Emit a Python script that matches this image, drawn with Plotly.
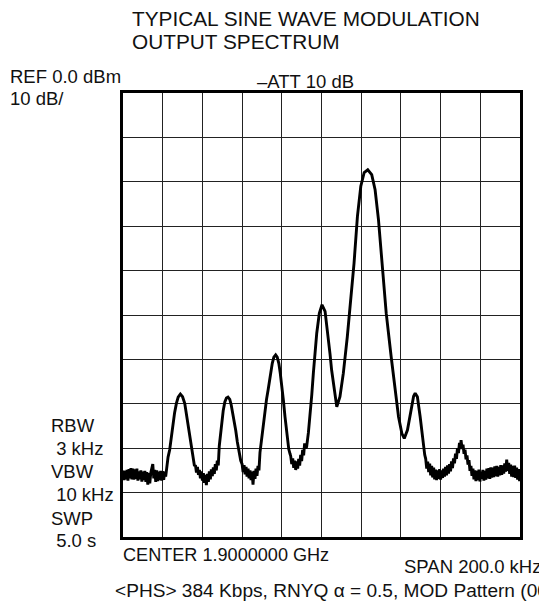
import plotly.graph_objects as go

# ---- trace data: frequency offset from centre (kHz) and level (dBm) ----
noise_left_f = [-100.0, -99.5, -99.0, -98.5, -98.0, -97.5, -97.0, -96.5, -96.0, -95.5,
                -95.0, -94.5, -94.0, -93.5, -93.0, -92.5, -92.0, -91.5, -91.0, -90.5,
                -90.0, -89.5, -89.0, -88.5, -88.0, -87.5, -87.0, -86.5, -86.0, -85.5,
                -85.0, -84.5, -84.0, -83.5, -83.0, -82.5, -82.0, -81.5, -81.0, -80.5,
                -80.0, -79.5, -79.0, -78.5]
noise_left_l = [-85.0, -87.2, -85.1, -87.0, -84.9, -87.3, -84.7, -86.8, -84.5, -87.0,
                -84.6, -87.1, -84.8, -86.9, -84.6, -87.3, -85.2, -87.0, -85.0, -87.5,
                -85.3, -87.2, -85.1, -87.6, -85.4, -88.2, -85.6, -87.9, -85.5, -84.8,
                -83.6, -86.8, -84.9, -87.6, -85.0, -87.4, -85.3, -87.2, -85.1, -87.3,
                -85.2, -87.1, -85.3, -86.4]

peak1_f = [-78.0, -77.3, -76.5, -75.7, -74.8, -74.0, -73.1, -72.2, -71.1, -70.0, -68.9, -68.0,
           -67.3, -66.5, -65.6, -64.8, -64.0]
peak1_l = [-84.5, -82.0, -80.4, -77.3, -74.4, -72.0, -69.9, -68.5, -67.8, -68.4, -69.9, -72.5,
           -75.2, -77.8, -80.4, -82.5, -84.0]

noise2_f = [-63.5, -63.0, -62.5, -62.0, -61.5, -61.0, -60.5, -60.0, -59.5, -59.0, -58.5, -58.0,
            -57.5, -57.0, -56.5, -56.0, -55.5, -55.0, -54.5, -54.0, -53.5, -53.0, -52.5, -52.0]
noise2_l = [-83.8, -85.5, -84.2, -86.0, -84.9, -86.8, -85.2, -87.3, -85.6, -87.8, -86.0, -88.3,
            -85.8, -87.6, -85.2, -87.0, -84.8, -86.3, -84.3, -85.8, -83.6, -85.0, -82.8, -83.9]

peak2_f = [-51.5, -50.4, -49.5, -48.7, -47.9, -47.1, -46.2, -45.5, -44.9, -44.0, -43.2, -42.4,
           -41.5, -40.7]
peak2_l = [-79.5, -74.4, -71.5, -69.6, -68.7, -68.5, -69.0, -70.2, -71.5, -73.7, -76.0, -78.6,
           -81.2, -82.8]

noise3_f = [-40.0, -39.5, -39.0, -38.5, -38.0, -37.5, -37.0, -36.5, -36.0, -35.5, -35.0, -34.5,
            -34.0, -33.5, -33.0, -32.5, -32.0, -31.5]
noise3_l = [-83.6, -85.4, -83.8, -85.9, -84.2, -86.4, -84.6, -86.8, -85.0, -87.2, -85.3, -88.2,
            -85.1, -86.9, -84.6, -86.2, -84.0, -85.0]

peak3_f = [-31.0, -30.2, -29.4, -28.5, -27.7, -26.9, -26.0, -24.8, -24.0, -23.1, -22.3, -21.5,
           -20.8, -20.1, -19.2, -18.4, -17.7, -17.1, -16.5, -15.9]
peak3_l = [-81.0, -78.0, -74.4, -71.5, -69.0, -66.9, -64.0, -60.9, -59.5, -59.0, -59.5, -60.9,
           -63.0, -65.4, -69.2, -72.9, -76.0, -78.9, -80.2, -81.2]

noise4_f = [-15.5, -15.0, -14.5, -14.0, -13.5, -13.0, -12.5, -12.0, -11.5, -11.0, -10.5, -10.0,
            -9.5, -9.0, -8.5, -8.0]
noise4_l = [-81.8, -83.6, -82.3, -84.4, -82.8, -84.9, -83.0, -84.6, -82.4, -83.9, -81.5, -82.9,
            -80.4, -81.6, -78.9, -80.0]

main_f = [-7.5, -6.6, -5.8, -4.9, -4.1, -3.2, -2.4, -1.1, 0.25, 1.8, 3.4, 4.3, 5.1, 6.5, 7.7,
          9.3, 11.0, 13.0, 14.7, 16.4, 18.1, 19.8, 21.5, 23.3, 25.3, 27.0, 28.7, 30.4, 32.6,
          35.1, 37.1, 38.8, 40.5, 41.7, 43.3, 45.0, 46.4, 47.2, 48.3, 49.7, 51.1, 52.0]
main_l = [-79.7, -76.5, -72.9, -68.0, -63.1, -58.5, -54.1, -49.6, -47.7, -49.2, -54.9, -58.8,
          -62.4, -67.6, -70.7, -68.4, -63.1, -54.9, -47.3, -38.3, -27.8, -21.0, -17.9, -17.3,
          -18.4, -21.8, -28.5, -38.3, -49.6, -59.4, -66.9, -72.9, -76.7, -77.8, -75.9, -71.4,
          -68.3, -67.6, -68.4, -72.9, -78.9, -81.5]

noise5_f = [52.5, 53.0, 53.5, 54.0, 54.5, 55.0, 55.5, 56.0, 56.5, 57.0, 57.5, 58.0, 58.5, 59.0,
            59.5, 60.0, 60.5, 61.0, 61.5, 62.0, 62.5, 63.0, 63.5, 64.0, 64.5, 65.0, 65.5, 66.0,
            66.5, 67.0]
noise5_l = [-82.4, -84.6, -83.0, -85.4, -83.5, -86.1, -84.0, -86.6, -84.4, -87.0,
            -84.8, -87.2, -85.0, -86.9, -84.7, -87.1, -85.0, -86.7, -84.6, -86.4,
            -84.2, -86.1, -83.9, -85.7, -83.6, -85.2, -83.0, -84.5, -82.3, -83.4]

bump_f = [67.5, 68.0, 68.5, 69.0, 69.5, 70.0, 70.3, 70.8, 71.3, 71.8, 72.3, 72.8, 73.3, 73.8,
          74.3, 74.8, 75.3, 75.8]
bump_l = [-81.2, -82.4, -80.0, -81.1, -78.8, -80.2, -78.2, -80.0, -79.2, -81.3,
          -80.3, -82.5, -81.6, -83.7, -82.7, -85.1, -84.0, -86.2]

noise_right_f = [76.3, 76.8, 77.3, 77.8, 78.3, 78.8, 79.3, 79.8, 80.3, 80.8, 81.3, 81.8, 82.3,
                 82.8, 83.3, 83.8, 84.3, 84.8, 85.3, 85.8, 86.3, 86.8, 87.3, 87.8, 88.3, 88.8,
                 89.3, 89.8, 90.3, 90.8, 91.3, 91.8, 92.3, 92.8, 93.3, 93.8, 94.3, 94.8, 95.3,
                 95.8, 96.3, 96.8, 97.3, 97.8, 98.3, 98.8, 99.3, 99.8, 100.0]
noise_right_l = [-84.6, -87.0, -85.0, -87.4, -85.1, -87.2, -84.8, -87.5, -85.3, -86.9,
                 -84.9, -87.3, -85.1, -87.1, -84.6, -86.8, -84.5, -86.9, -84.3, -86.6,
                 -84.4, -86.5, -84.1, -86.3, -84.0, -86.4, -84.2, -86.1, -83.8, -86.0,
                 -83.9, -85.7, -83.4, -85.3, -82.6, -85.1, -83.3, -85.8, -83.7, -86.4,
                 -84.0, -86.5, -83.9, -86.7, -84.4, -87.1, -84.7, -87.4, -86.0]

freq_khz = (noise_left_f + peak1_f + noise2_f + peak2_f + noise3_f + peak3_f + noise4_f
            + main_f + noise5_f + bump_f + noise_right_f)
level_dbm = (noise_left_l + peak1_l + noise2_l + peak2_l + noise3_l + peak3_l + noise4_l
             + main_l + noise5_l + bump_l + noise_right_l)
assert len(freq_khz) == len(level_dbm)

# ---- axis settings (spectrum analyser screen) ----
span_khz = 200.0
ref_dbm = 0.0
db_per_div = 10.0

# ---- labels ----
title_lines = ["TYPICAL SINE WAVE MODULATION", "OUTPUT SPECTRUM"]
ref_label = "REF 0.0 dBm"
scale_label = "10 dB/"
att_label = "\u2013ATT 10 dB"
side_labels = ["RBW", " 3 kHz", "VBW", " 10 kHz", "SWP", " 5.0 s"]
center_label = "CENTER 1.9000000 GHz"
span_label = "SPAN 200.0 kHz"
footer_label = "<PHS> 384 Kbps, RNYQ \u03b1 = 0.5, MOD Pattern (00"

# The page body has an 8 px default margin, so the figure is drawn 8 px smaller
# and all page-pixel positions are shifted by that offset.
PAGE_OFF = 8
FIG_W, FIG_H = 547 - PAGE_OFF, 604 - PAGE_OFF
L, R, T, B = 123 - PAGE_OFF, 27, 93 - PAGE_OFF, 67
PW, PH = FIG_W - L - R, FIG_H - T - B
FONT = "Liberation Sans, Arial, sans-serif"
TEXT_PAD = 2


def px_x(px):
    return (px - PAGE_OFF - TEXT_PAD - L) / PW


def px_y(py):
    return (FIG_H - B - (py - PAGE_OFF)) / PH


fig = go.Figure()
fig.add_trace(go.Scatter(x=freq_khz, y=level_dbm, mode="lines",
                         line=dict(color="black", width=2.9), hoverinfo="skip"))

axis_common = dict(showgrid=True, gridcolor="#222222", gridwidth=1, zeroline=False,
                   showticklabels=False, ticks="", showline=True, linecolor="black",
                   linewidth=2.6, mirror=True)
fig.update_xaxes(range=[-span_khz / 2, span_khz / 2], dtick=span_khz / 10, tick0=0, **axis_common)
fig.update_yaxes(range=[ref_dbm - 10 * db_per_div, ref_dbm], dtick=db_per_div, tick0=0, **axis_common)

ann = []


def add_text(text, px, py, size=18.5, anchor="left"):
    ann.append(dict(text=text, x=px_x(px), y=px_y(py), xref="paper", yref="paper",
                    xanchor=anchor, yanchor="middle", showarrow=False,
                    font=dict(family=FONT, size=size, color="#111111")))


add_text(title_lines[0], 132, 18, size=20.8)
add_text(title_lines[1], 132, 41, size=20.8)
add_text(ref_label, 10, 76)
add_text(scale_label, 10, 99)
add_text(att_label, 257, 81)
side_y = [425, 448, 471, 494, 518, 540]
for lab, yy in zip(side_labels, side_y):
    add_text(lab.replace(" ", "\u00a0"), 51, yy)
add_text(center_label, 123, 555, size=18.1)
add_text(span_label, 404, 566)
add_text(footer_label, 115, 590, size=19.1)

fig.update_layout(width=FIG_W, height=FIG_H, margin=dict(l=L, r=R, t=T, b=B),
                  plot_bgcolor="white", paper_bgcolor="white", showlegend=False,
                  annotations=ann)

fig.write_html("out.html")
